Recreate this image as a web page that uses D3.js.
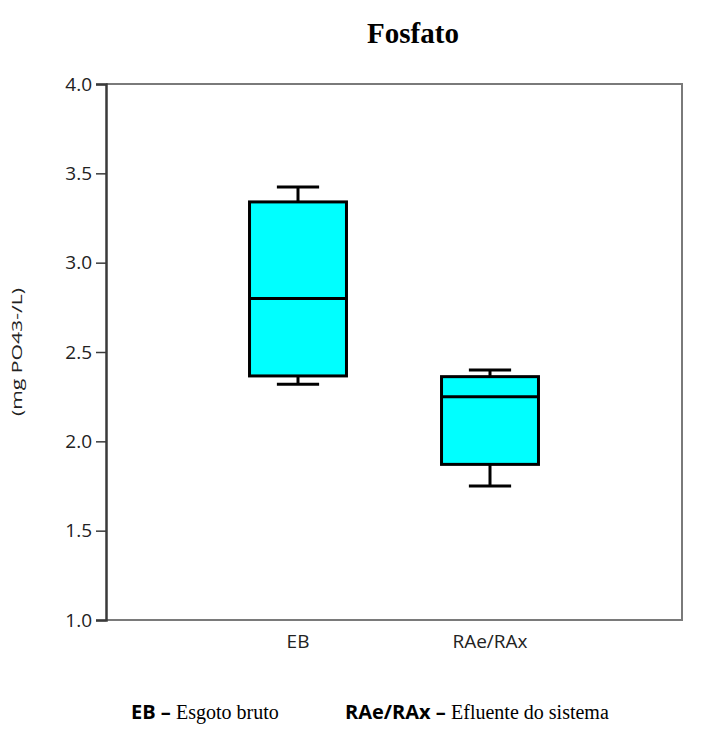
<!DOCTYPE html>
<html><head><meta charset="utf-8">
<script src="https://cdn.jsdelivr.net/npm/d3@7"></script>
<style>body{margin:0;background:#fff}svg{display:block}</style>
</head><body>
<svg id="c" width="716" height="744"></svg>
<script>
const categories = ["EB", "RAe/RAx"];
const whiskerLow  = [2.32, 1.75];
const q1          = [2.366, 1.871];
const median      = [2.80, 2.25];
const q3          = [3.34, 2.362];
const whiskerHigh = [3.423, 2.399];
const yTicks = [1.0, 1.5, 2.0, 2.5, 3.0, 3.5, 4.0];
const title = "Fosfato";
const yLabel = "(mg PO43-/L)";
const legendItems = [
  {abbr: "EB", desc: "Esgoto bruto"},
  {abbr: "RAe/RAx", desc: "Efluente do sistema"}
];

const svg = d3.select("#c");
const L = 106, R = 682, T = 84, B = 620;
const y = d3.scaleLinear().domain([1, 4]).range([B, T]);
const x = d3.scalePoint().domain(categories).range([L, R]).padding(1);
const step = x.step();
const boxW = step * 0.505, capW = step * 0.22;
const sans = "'Open Sans', Lato, sans-serif";
const serif = "'Liberation Serif', 'Times New Roman', serif";

// title
svg.append("text").attr("x", 413).attr("y", 43).attr("text-anchor", "middle")
  .attr("font-family", serif).attr("font-weight", "bold").attr("font-size", 29)
  .attr("fill", "#000").text(title);

// frame (top/right/bottom)
svg.append("path")
  .attr("d", `M${L},${T}H${R}V${B}H${L}`)
  .attr("fill", "none").attr("stroke", "#7a7a7a").attr("stroke-width", 2);

// y axis
const yAxis = d3.axisLeft(y).tickValues(yTicks).tickFormat(d3.format(".1f")).tickSizeOuter(0).tickSize(10).tickPadding(4);
const gy = svg.append("g").attr("transform", `translate(${L},0)`).call(yAxis);
gy.select(".domain").attr("stroke", "#3a3a3a").attr("stroke-width", 2.5);
gy.selectAll(".tick line").attr("stroke", "#3a3a3a").attr("stroke-width", 1.5);
gy.selectAll(".tick text").attr("font-family", sans).attr("font-size", 19).attr("fill", "#222");

// y label
svg.append("text").attr("transform", `translate(17,${(T + B) / 2}) rotate(-90)`)
  .attr("text-anchor", "middle").attr("dy", "0.35em").attr("font-family", sans).attr("font-size", 15)
  .attr("textLength", 128).attr("lengthAdjust", "spacingAndGlyphs")
  .attr("fill", "#222").text(yLabel);

// boxes
const g = svg.append("g");
categories.forEach((c, i) => {
  const cx = x(c);
  const s = g.append("g").attr("stroke", "#000").attr("stroke-width", 3);
  s.append("line").attr("x1", cx).attr("x2", cx).attr("y1", y(whiskerHigh[i])).attr("y2", y(q3[i]));
  s.append("line").attr("x1", cx).attr("x2", cx).attr("y1", y(q1[i])).attr("y2", y(whiskerLow[i]));
  s.append("line").attr("x1", cx - capW / 2).attr("x2", cx + capW / 2).attr("y1", y(whiskerHigh[i])).attr("y2", y(whiskerHigh[i]));
  s.append("line").attr("x1", cx - capW / 2).attr("x2", cx + capW / 2).attr("y1", y(whiskerLow[i])).attr("y2", y(whiskerLow[i]));
  s.append("rect").attr("x", cx - boxW / 2).attr("width", boxW)
    .attr("y", y(q3[i])).attr("height", y(q1[i]) - y(q3[i]))
    .attr("fill", "#00ffff");
  s.append("line").attr("x1", cx - boxW / 2).attr("x2", cx + boxW / 2).attr("y1", y(median[i])).attr("y2", y(median[i]));
});

// x labels
svg.append("g").selectAll("text").data(categories).join("text")
  .attr("x", d => x(d)).attr("y", 648).attr("text-anchor", "middle")
  .attr("font-family", sans).attr("font-size", 19).attr("fill", "#222").text(d => d);

// legend
const legX = [131, 345];
legendItems.forEach((it, i) => {
  const t = svg.append("text").attr("x", legX[i]).attr("y", 719).attr("fill", "#000");
  t.append("tspan").attr("font-family", sans).attr("font-weight", "bold").attr("font-size", 20).text(it.abbr + " \u2013 ");
  t.append("tspan").attr("font-family", serif).attr("font-size", 20).text(it.desc);
});
</script>
</body></html>
